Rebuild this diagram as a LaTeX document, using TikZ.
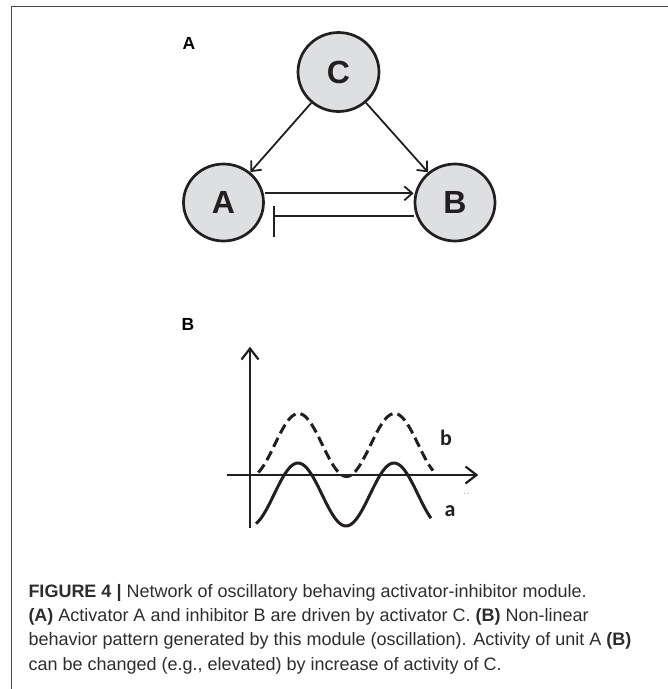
\documentclass[tikz,border=0pt]{standalone}
\usepackage{fontspec}
\setmainfont{Liberation Sans}
\newfontfamily\curvefont{Carlito}
\definecolor{unitgray}{RGB}{222,223,225}
\definecolor{inkblack}{RGB}{35,31,32}
\definecolor{framegray}{RGB}{70,70,70}
\definecolor{captiongray}{RGB}{45,45,45}
\usetikzlibrary{arrows.meta, shapes.geometric}

\begin{document}
\begin{tikzpicture}[x=1pt, y=-1pt,
    unit/.style={ellipse, draw=inkblack, fill=unitgray, line width=2.7pt,
      minimum width=80pt, minimum height=77pt, inner sep=0pt,
      font=\fontsize{32}{32}\selectfont\bfseries, text=inkblack},
    act/.style={draw=inkblack, line width=1.8pt,
      -{Straight Barb[length=8pt, width=14pt]}},
    inh/.style={draw=inkblack, line width=1.8pt},
    panel/.style={font=\fontsize{17.5}{17.5}\selectfont\bfseries},
    axis/.style={draw=inkblack, line width=1.3pt,
      -{Straight Barb[length=11pt, width=17pt, line width=2.2pt]}},
    wave/.style={draw=inkblack, line width=3pt, smooth, samples=80},
    curvelabel/.style={font=\curvefont\fontsize{22}{22}\selectfont\bfseries, text=inkblack},
    captext/.style={anchor=base west, inner sep=0pt, text=captiongray,
      font=\fontsize{18}{22}\selectfont},
  ]
  \useasboundingbox (0,0) rectangle (668,689);
  \draw[framegray, line width=1pt] (11.7,689) -- (11.7,6) -- (668,6);

  \node[panel] (labA) at (189,43) {A};
  \node[unit, minimum width=81pt, minimum height=79pt] (C) at (338.5,72) {C};
  \node[unit] (A) at (223.5,202.5) {A};
  \node[unit] (B) at (455,202.5) {B};

  \draw[act] (C) -- (A);
  \draw[act] (C) -- (B);
  \draw[act] ([yshift=9.2pt]A.east) -- ([yshift=9.2pt]B.west);
  \coordinate (stop) at ([xshift=9pt, yshift=-13.5pt]A.east);
  \draw[inh] ([yshift=-13.5pt]B.west) -- (stop);
  \draw[inh] (stop) ++(0,-10.3) -- ++(0,31);

  \node[panel] (labB) at (188,324) {B};
  \coordinate (ybot) at (250,528);
  \coordinate (ytop) at (250,346.7);
  \coordinate (xleft) at (226.7,475);
  \coordinate (xright) at (478.3,475);
  \draw[axis] (ybot) -- (ytop);
  \draw[axis] (xleft) -- (xright);
  \draw[wave] plot[domain=256:431] (\x, {494.5-31.5*cos((\x-298)/96*360)});
  \draw[wave, dash pattern=on 10pt off 5pt]
    plot[domain=258.3:433] (\x, {445-31.5*cos((\x-298.5)/96*360)});
  \node[curvelabel] (lb) at (446,438) {b};
  \node[curvelabel] (la) at (450,511) {a};
  \node[font=\fontsize{7}{7}\selectfont, text=gray] (tk) at (466.5,494) {-\,-};

  \node[captext] (cap1) at (28.3,597.3)
    {\textbf{FIGURE 4 |} Network of oscillatory behaving activator-inhibitor module.};
  \node[captext] (cap2) at (28.3,621.6)
    {\textbf{(A)} Activator A and inhibitor B are driven by activator C. \textbf{(B)} Non-linear};
  \node[captext] (cap3) at (28.3,645.9)
    {behavior pattern generated by this module (oscillation). Activity of unit A \textbf{(B)}};
  \node[captext] (cap4) at (28.3,670.2)
    {can be changed (e.g., elevated) by increase of activity of C.};
\end{tikzpicture}
\end{document}
